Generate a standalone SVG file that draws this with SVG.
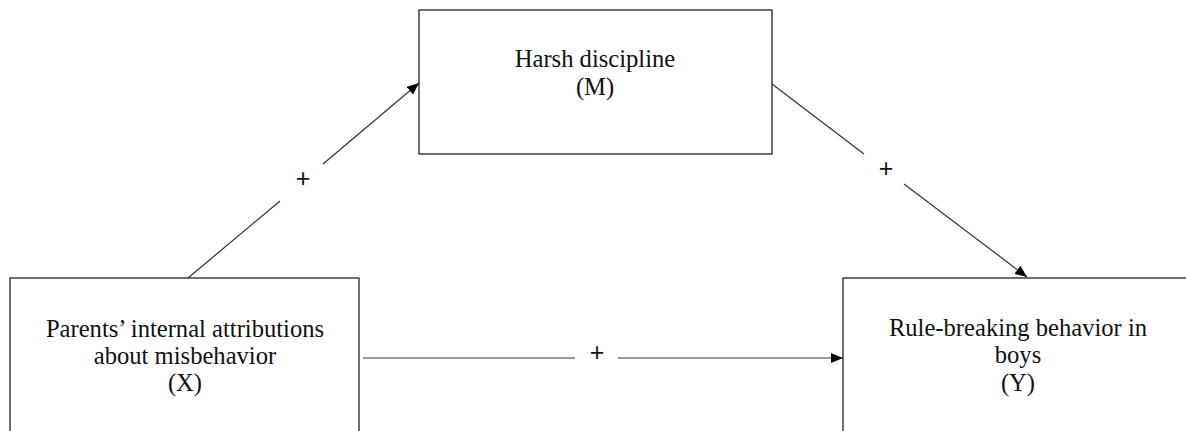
<svg xmlns="http://www.w3.org/2000/svg" width="1186" height="431" viewBox="0 0 1186 431">
<style>
.box{fill:#fff;stroke:#222;stroke-width:1.3}
.lbl{font-family:"Liberation Serif","Times New Roman",serif;font-size:24.6px;fill:#111;text-anchor:middle}
.edge{stroke:#333;stroke-width:1.2;fill:none}
.sign{font-family:"Liberation Sans",Arial,sans-serif;font-size:25px;fill:#111;text-anchor:middle}
</style>
<defs>
<marker id="ah" viewBox="0 0 12 10" refX="12" refY="5" markerWidth="12" markerHeight="10" markerUnits="userSpaceOnUse" orient="auto">
<path d="M0,0 L12,5 L0,10 Z" fill="#000"/>
</marker>
</defs>
<g id="node-m">
<rect class="box" x="419" y="10" width="353" height="144"/>
<text class="lbl" x="595" y="67">Harsh discipline</text>
<text class="lbl" x="595" y="95">(M)</text>
</g>
<g id="node-x">
<rect class="box" x="10" y="278" width="349" height="170"/>
<text class="lbl" x="185" y="337">Parents’ internal attributions</text>
<text class="lbl" x="185" y="364">about misbehavior</text>
<text class="lbl" x="185" y="391">(X)</text>
</g>
<g id="node-y">
<rect class="box" x="843" y="278" width="360" height="170"/>
<text class="lbl" x="1018" y="336">Rule-breaking behavior in</text>
<text class="lbl" x="1018" y="363">boys</text>
<text class="lbl" x="1018" y="391">(Y)</text>
</g>
<g id="connectors">
<line class="edge" x1="188" y1="278" x2="280" y2="201"/>
<line class="edge" x1="323" y1="164" x2="419" y2="83" marker-end="url(#ah)"/>
<text class="sign" x="303" y="187">+</text>
<line class="edge" x1="772" y1="84" x2="864" y2="154"/>
<line class="edge" x1="904" y1="184" x2="1027" y2="277" marker-end="url(#ah)"/>
<text class="sign" x="886" y="177">+</text>
<line class="edge" x1="363" y1="358" x2="575" y2="358"/>
<line class="edge" x1="618" y1="358" x2="843" y2="358" marker-end="url(#ah)"/>
<text class="sign" x="597" y="361">+</text>
</g>
</svg>
